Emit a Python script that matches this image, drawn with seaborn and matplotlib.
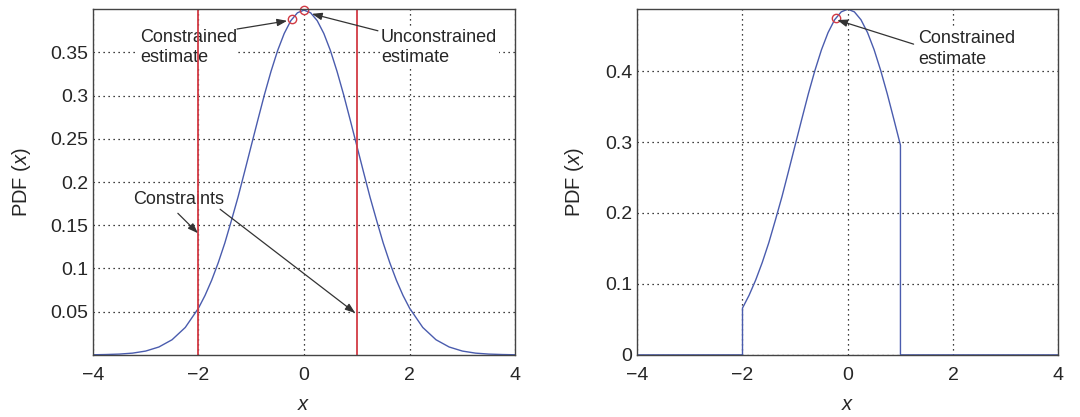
import matplotlib
matplotlib.use("Agg")
import matplotlib.pyplot as plt
import seaborn as sns
import pandas as pd

# values
x_full = [-4.0, -3.75, -3.5, -3.25, -3.0, -2.75, -2.5, -2.25, -2.0, -1.875, -1.75, -1.625,
          -1.5, -1.375, -1.25, -1.125, -1.0, -0.875, -0.75, -0.625, -0.5, -0.375, -0.25,
          -0.125, 0.0, 0.125, 0.25, 0.375, 0.5, 0.625, 0.75, 0.875, 1.0, 1.125, 1.25,
          1.375, 1.5, 1.625, 1.75, 1.875, 2.0, 2.25, 2.5, 2.75, 3.0, 3.25, 3.5, 3.75, 4.0]
pdf_full = [0.0001, 0.0004, 0.0009, 0.0020, 0.0044, 0.0091, 0.0175, 0.0317, 0.0540, 0.0688,
            0.0863, 0.1066, 0.1295, 0.1556, 0.1826, 0.2121, 0.2420, 0.2718, 0.3011, 0.3281,
            0.3521, 0.3719, 0.3867, 0.3958, 0.3989, 0.3958, 0.3867, 0.3719, 0.3521, 0.3281,
            0.3011, 0.2718, 0.2420, 0.2121, 0.1826, 0.1556, 0.1295, 0.1066, 0.0863, 0.0688,
            0.0540, 0.0317, 0.0175, 0.0091, 0.0044, 0.0020, 0.0009, 0.0004, 0.0001]

x_trunc = [-4.0, -2.0, -2.0, -1.875, -1.75, -1.625, -1.5, -1.375, -1.25, -1.125, -1.0,
           -0.875, -0.75, -0.625, -0.5, -0.375, -0.25, -0.125, 0.0, 0.125, 0.25, 0.375,
           0.5, 0.625, 0.75, 0.875, 1.0, 1.0, 4.0]
pdf_trunc = [0.0, 0.0, 0.0660, 0.0840, 0.1054, 0.1302, 0.1582, 0.1901, 0.2231, 0.2591,
             0.2956, 0.3320, 0.3678, 0.4008, 0.4301, 0.4543, 0.4724, 0.4835, 0.4873,
             0.4835, 0.4724, 0.4543, 0.4301, 0.4008, 0.3678, 0.3320, 0.2956, 0.0, 0.0]

constraints = [-2.0, 1.0]
est_unc = (0.0, 0.3989)
est_con_left = (-0.23, 0.3885)
est_con_right = (-0.23, 0.4746)

sns.set_style("white")
plt.rcParams['font.family'] = ['Liberation Sans', 'DejaVu Sans']
plt.rcParams['mathtext.fontset'] = 'custom'
plt.rcParams['mathtext.it'] = 'Liberation Sans:italic'
plt.rcParams['mathtext.rm'] = 'Liberation Sans'

blue = '#4a5cae'
red = '#d23a44'

fig = plt.figure(figsize=(10.8, 4.17), dpi=100)
ax1 = fig.add_axes([0.086, 0.149, 0.391, 0.829])
ax2 = fig.add_axes([0.590, 0.149, 0.390, 0.829])

df1 = pd.DataFrame({'x': x_full, 'pdf': pdf_full})
df2 = pd.DataFrame({'x': x_trunc, 'pdf': pdf_trunc})

sns.lineplot(data=df1, x='x', y='pdf', ax=ax1, color=blue, lw=1.0, sort=False,
             estimator=None, errorbar=None)
for c in constraints:
    ax1.axvline(c, color=red, lw=1.3, zorder=2)
ax1.plot(*est_unc, 'o', mfc='none', mec=red, ms=6, mew=1, clip_on=False)
ax1.plot(*est_con_left, 'o', mfc='none', mec=red, ms=6, mew=1, clip_on=False)

sns.lineplot(data=df2, x='x', y='pdf', ax=ax2, color=blue, lw=1.0, sort=False,
             estimator=None, errorbar=None)
ax2.plot(*est_con_right, 'o', mfc='none', mec=red, ms=6, mew=1, clip_on=False)

# axes cosmetics
for ax in (ax1, ax2):
    ax.set_xlim(-4, 4)
    ax.set_xticks([-4, -2, 0, 2, 4])
    ax.set_xticklabels(['\u22124', '\u22122', '0', '2', '4'])
    ax.grid(True, color='black', linestyle=(0, (1, 3)), lw=0.9)
    ax.set_axisbelow(True)
    ax.tick_params(labelsize=14, direction='in', length=3, color='#444444')
    ax.tick_params(axis='x', pad=9)
    for s in ax.spines.values():
        s.set_color('#444444')
        s.set_linewidth(1.0)
    ax.set_xlabel('$\\it{x}$', fontsize=14.5, labelpad=8)
ax1.set_ylabel('PDF ($\\it{x}$)', fontsize=14.5, labelpad=12)
ax2.set_ylabel('PDF ($\\it{x}$)', fontsize=14.5, labelpad=14)

ax1.set_ylim(0, 0.4)
ax1.set_yticks([0.05, 0.1, 0.15, 0.2, 0.25, 0.3, 0.35])
ax1.set_yticklabels(['0.05', '0.1', '0.15', '0.2', '0.25', '0.3', '0.35'])
ax2.set_ylim(0, 0.4873)
ax2.set_yticks([0, 0.1, 0.2, 0.3, 0.4])
ax2.set_yticklabels(['0', '0.1', '0.2', '0.3', '0.4'])

arrow = dict(arrowstyle='-|>,head_length=0.6,head_width=0.22', color='#333333', lw=0.9,
             shrinkA=0, shrinkB=0)
box = dict(facecolor='white', edgecolor='none', pad=1)

ax1.text(-3.11, 0.3554, 'Constrained\nestimate', fontsize=13, ha='left', va='center',
         linespacing=1.25, bbox=box, zorder=1.5)
ax1.annotate('', xy=(-0.32, 0.3865), xytext=(-1.27, 0.377), arrowprops=arrow)
ax1.text(1.46, 0.3554, 'Unconstrained\nestimate', fontsize=13, ha='left', va='center',
         linespacing=1.25, bbox=box, zorder=1.5)
ax1.annotate('', xy=(0.15, 0.3946), xytext=(1.40, 0.375), arrowprops=arrow)
ax1.text(-3.24, 0.180, 'Constraints', fontsize=13, ha='left', va='center', bbox=box, zorder=1.5)
ax1.annotate('', xy=(-2.01, 0.1408), xytext=(-2.39, 0.1638), arrowprops=arrow)
ax1.annotate('', xy=(0.97, 0.0485), xytext=(-1.59, 0.1685), arrowprops=arrow)

ax2.text(1.34, 0.431, 'Constrained\nestimate', fontsize=13, ha='left', va='center',
         linespacing=1.25, bbox=box, zorder=1.5)
ax2.annotate('', xy=(-0.2, 0.472), xytext=(1.25, 0.438), arrowprops=arrow)

fig.savefig('out.png', dpi=100)
